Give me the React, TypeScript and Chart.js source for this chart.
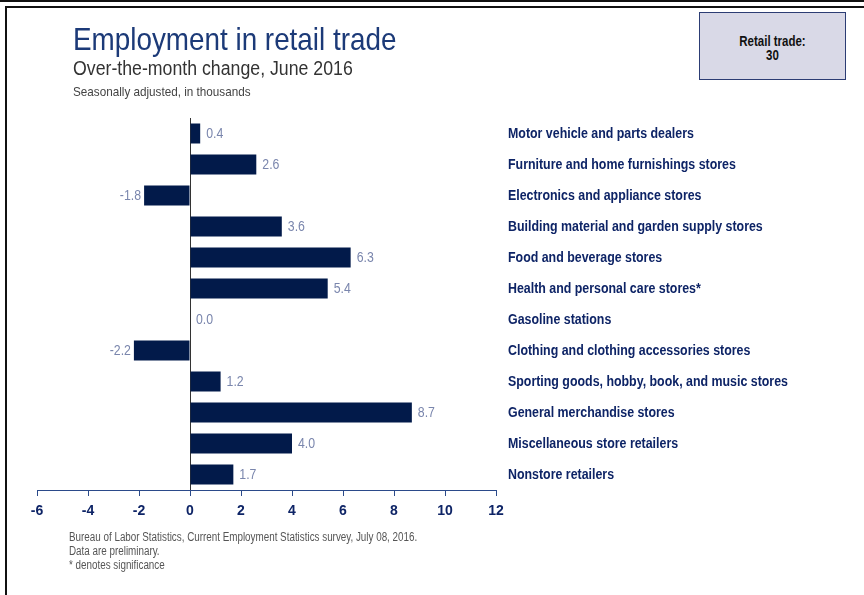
import React, { useEffect, useRef } from "react";
import { Chart, registerables } from "chart.js";

Chart.register(...registerables);

const categories: string[] = [
  "Motor vehicle and parts dealers",
  "Furniture and home furnishings stores",
  "Electronics and appliance stores",
  "Building material and garden supply stores",
  "Food and beverage stores",
  "Health and personal care stores*",
  "Gasoline stations",
  "Clothing and clothing accessories stores",
  "Sporting goods, hobby, book, and music stores",
  "General merchandise stores",
  "Miscellaneous store retailers",
  "Nonstore retailers",
];

const changes: number[] = [0.4, 2.6, -1.8, 3.6, 6.3, 5.4, 0.0, -2.2, 1.2, 8.7, 4.0, 1.7];

const xMin = -6;
const xMax = 12;
const xStep = 2;

const titleText = "Employment in retail trade";
const subtitleText = "Over-the-month change, June 2016";
const noteText = "Seasonally adjusted, in thousands";
const totalLabel = "Retail trade:";
const totalValue = "30";
const footerLines: string[] = [
  "Bureau of Labor Statistics, Current Employment Statistics survey, July 08, 2016.",
  "Data are preliminary.",
  "* denotes significance",
];

const FONT = '"Liberation Sans", Arial, sans-serif';
const NAVY = "#0e2466";
const BAR = "#021a4a";

function drawNarrow(ctx: CanvasRenderingContext2D, text: string, x: number, y: number, align: CanvasTextAlign, sx: number) {
  ctx.save();
  ctx.translate(x, y);
  ctx.scale(sx, 1);
  ctx.textAlign = align;
  ctx.fillText(text, 0, 0);
  ctx.restore();
}

const labelPlugin = {
  id: "narrowLabels",
  afterDatasetsDraw(chart: any) {
    const ctx: CanvasRenderingContext2D = chart.ctx;
    const meta = chart.getDatasetMeta(0);
    const yScale = chart.scales.y;
    ctx.save();
    ctx.textBaseline = "middle";
    // value labels
    ctx.font = `14px ${FONT}`;
    ctx.fillStyle = "#7a86ad";
    meta.data.forEach((bar: any, i: number) => {
      const v = changes[i];
      const label = v.toFixed(1);
      if (v >= 0) {
        drawNarrow(ctx, label, bar.x + 6, bar.y + 1, "left", 0.88);
      } else {
        drawNarrow(ctx, label, bar.x - 3, bar.y + 1, "right", 0.88);
      }
    });
    // category labels
    ctx.font = `bold 14px ${FONT}`;
    ctx.fillStyle = NAVY;
    categories.forEach((c, i) => {
      const y = yScale.getPixelForValue(i);
      drawNarrow(ctx, c, chart.chartArea.right + 12, y + 1, "left", 0.885);
    });
    ctx.restore();
  },
};

export default function App() {
  const canvasRef = useRef<HTMLCanvasElement | null>(null);

  useEffect(() => {
    if (!canvasRef.current) return;
    const chart = new Chart(canvasRef.current, {
      type: "bar",
      data: {
        labels: categories,
        datasets: [
          {
            data: changes,
            backgroundColor: BAR,
            borderWidth: 0,
            barPercentage: 0.645,
            categoryPercentage: 1,
          },
        ],
      },
      options: {
        indexAxis: "y",
        animation: false,
        responsive: false,
        devicePixelRatio: 1,
        layout: { padding: { left: 37, top: 118, right: 0, bottom: 0 } },
        plugins: {
          legend: { display: false },
          tooltip: { enabled: false },
          title: { display: false },
        },
        scales: {
          x: {
            type: "linear",
            min: xMin,
            max: xMax,
            ticks: {
              stepSize: xStep,
              color: NAVY,
              font: { family: FONT, size: 14, weight: "bold" },
              padding: 7,
              maxRotation: 0,
            },
            grid: {
              drawOnChartArea: true,
              color: (c: any) => (c.tick && c.tick.value === 0 ? "#333333" : "rgba(0,0,0,0)"),
              tickColor: "#2b4a8a",
              tickLength: 6,
              lineWidth: 1,
            },
            border: { display: true, color: "#2b4a8a", width: 1 },
            afterFit: (s: any) => {
              s.height = 105;
            },
          },
          y: {
            type: "category",
            position: "right",
            grid: { display: false, drawTicks: false },
            border: { display: false },
            ticks: { display: false },
            afterFit: (s: any) => {
              s.width = 368;
            },
          },
        },
      },
      plugins: [labelPlugin],
    } as any);
    return () => chart.destroy();
  }, []);

  const narrow = (sx: number, origin = "left top"): React.CSSProperties => ({
    transform: `scaleX(${sx})`,
    transformOrigin: origin,
  });

  return (
    <div style={{ position: "absolute", left: 0, top: 0, width: 864, height: 595, overflow: "hidden", background: "#fff" }}>
      <div style={{ position: "absolute", left: 0, top: 0, width: 864, height: 2, background: "#111" }} />
      <div
        style={{
          position: "absolute",
          left: 5,
          top: 6,
          width: 900,
          height: 700,
          borderTop: "2px solid #111",
          borderLeft: "2px solid #111",
        }}
      />
      <canvas ref={canvasRef} width={864} height={595} style={{ position: "absolute", left: 0, top: 0 }} />
      <div style={{ position: "absolute", left: 73, top: 23, fontFamily: FONT, fontSize: 32, lineHeight: "32px", color: "#1c3a78", whiteSpace: "nowrap", ...narrow(0.87) }}>
        {titleText}
      </div>
      <div style={{ position: "absolute", left: 73, top: 58, fontFamily: FONT, fontSize: 20, lineHeight: "20px", color: "#333", whiteSpace: "nowrap", ...narrow(0.886) }}>
        {subtitleText}
      </div>
      <div style={{ position: "absolute", left: 73, top: 85, fontFamily: FONT, fontSize: 13, lineHeight: "13px", color: "#444", whiteSpace: "nowrap", ...narrow(0.9) }}>
        {noteText}
      </div>
      <div
        style={{
          position: "absolute",
          left: 699,
          top: 12,
          width: 145,
          height: 66,
          background: "#d9d9e7",
          border: "1.5px solid #2c3d74",
        }}
      >
        <div
          style={{
            marginTop: 21,
            fontFamily: FONT,
            fontWeight: "bold",
            fontSize: 14,
            lineHeight: "14px",
            color: "#111",
            textAlign: "center",
            ...narrow(0.82, "center top"),
          }}
        >
          <div>{totalLabel}</div>
          <div>{totalValue}</div>
        </div>
      </div>
      <div style={{ position: "absolute", left: 69, top: 530, fontFamily: FONT, fontSize: 12, lineHeight: "14px", color: "#555", whiteSpace: "nowrap", ...narrow(0.82) }}>
        {footerLines.map((l, i) => (
          <div key={i}>{l}</div>
        ))}
      </div>
    </div>
  );
}
